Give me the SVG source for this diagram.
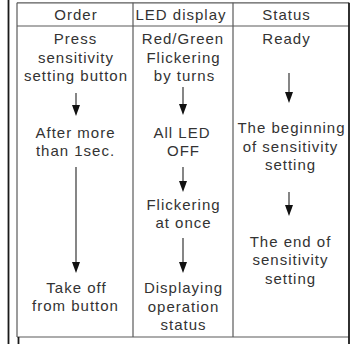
<svg xmlns="http://www.w3.org/2000/svg" width="353" height="344" viewBox="0 0 353 344">
<defs>
<style>
text{font-family:"Liberation Sans","DejaVu Sans",sans-serif;font-size:15px;letter-spacing:1px;fill:#333;text-anchor:middle}
.grid{stroke:#5a5a5a;stroke-width:1.2;fill:none}
.dark{stroke:#1a1a1a;stroke-width:1.8;fill:none}
.shaft{stroke:#444;stroke-width:1.3}
.head{fill:#111}
</style>
</defs>
<rect width="353" height="344" fill="#fff"/>
<g id="frame">
<line class="dark" x1="8.5" y1="0" x2="8.5" y2="344"/>
<line class="grid" x1="17" y1="2.8" x2="349" y2="2.8"/>
<line class="grid" x1="17" y1="26" x2="349" y2="26"/>
<line class="grid" x1="17" y1="337" x2="349" y2="337"/>
<line class="grid" x1="17" y1="2.8" x2="17" y2="337"/>
<line class="grid" x1="133" y1="2.8" x2="133" y2="337"/>
<line class="grid" x1="233" y1="2.8" x2="233" y2="337"/>
<line class="dark" x1="349" y1="2.8" x2="349" y2="344"/>
<line class="dark" x1="18.5" y1="337" x2="18.5" y2="344"/>
</g>
<g id="header">
<text x="76" y="20">Order</text>
<text x="181" y="20">LED display</text>
<text x="286.5" y="20">Status</text>
</g>
<g id="order-press">
<text x="75.5" y="44">Press</text>
<text x="76" y="62.5">sensitivity</text>
<text x="76" y="81">setting button</text>
</g>
<g id="order-after">
<text x="75.5" y="138">After more</text>
<text x="75.5" y="156">than 1sec.</text>
</g>
<g id="order-takeoff">
<text x="76.5" y="292.5">Take off</text>
<text x="75.5" y="311">from button</text>
</g>
<g id="led-redgreen">
<text x="183" y="44">Red/Green</text>
<text x="183.5" y="62.5">Flickering</text>
<text x="184.5" y="81">by turns</text>
</g>
<g id="led-off">
<text x="182" y="137.5">All LED</text>
<text x="183.5" y="156">OFF</text>
</g>
<g id="led-flicker">
<text x="183.5" y="209.5">Flickering</text>
<text x="183.5" y="228">at once</text>
</g>
<g id="led-display">
<text x="183.5" y="293">Displaying</text>
<text x="183.5" y="311.5">operation</text>
<text x="183.5" y="330">status</text>
</g>
<g id="status-ready">
<text x="286.5" y="44">Ready</text>
</g>
<g id="status-begin">
<text x="291.5" y="132.7">The beginning</text>
<text x="290.5" y="151.5">of sensitivity</text>
<text x="290.5" y="170">setting</text>
</g>
<g id="status-end">
<text x="290.5" y="246.5">The end of</text>
<text x="290.5" y="265">sensitivity</text>
<text x="290.5" y="283.5">setting</text>
</g>
<g id="connectors">
<line class="shaft" x1="76" y1="93" x2="76" y2="106"/>
<polygon class="head" points="72,105 80,105 76,116"/>
<line class="shaft" x1="76" y1="167" x2="76" y2="263"/>
<polygon class="head" points="72,262 80,262 76,273"/>
<line class="shaft" x1="183" y1="87" x2="183" y2="105"/>
<polygon class="head" points="179,104 187,104 183,115"/>
<line class="shaft" x1="183" y1="167" x2="183" y2="182"/>
<polygon class="head" points="179,181 187,181 183,192"/>
<line class="shaft" x1="183" y1="238" x2="183" y2="263"/>
<polygon class="head" points="179,262 187,262 183,273"/>
<line class="shaft" x1="289" y1="73" x2="289" y2="93"/>
<polygon class="head" points="285,92 293,92 289,103"/>
<line class="shaft" x1="289" y1="192" x2="289" y2="206"/>
<polygon class="head" points="285,205 293,205 289,216"/>
</g>
</svg>
